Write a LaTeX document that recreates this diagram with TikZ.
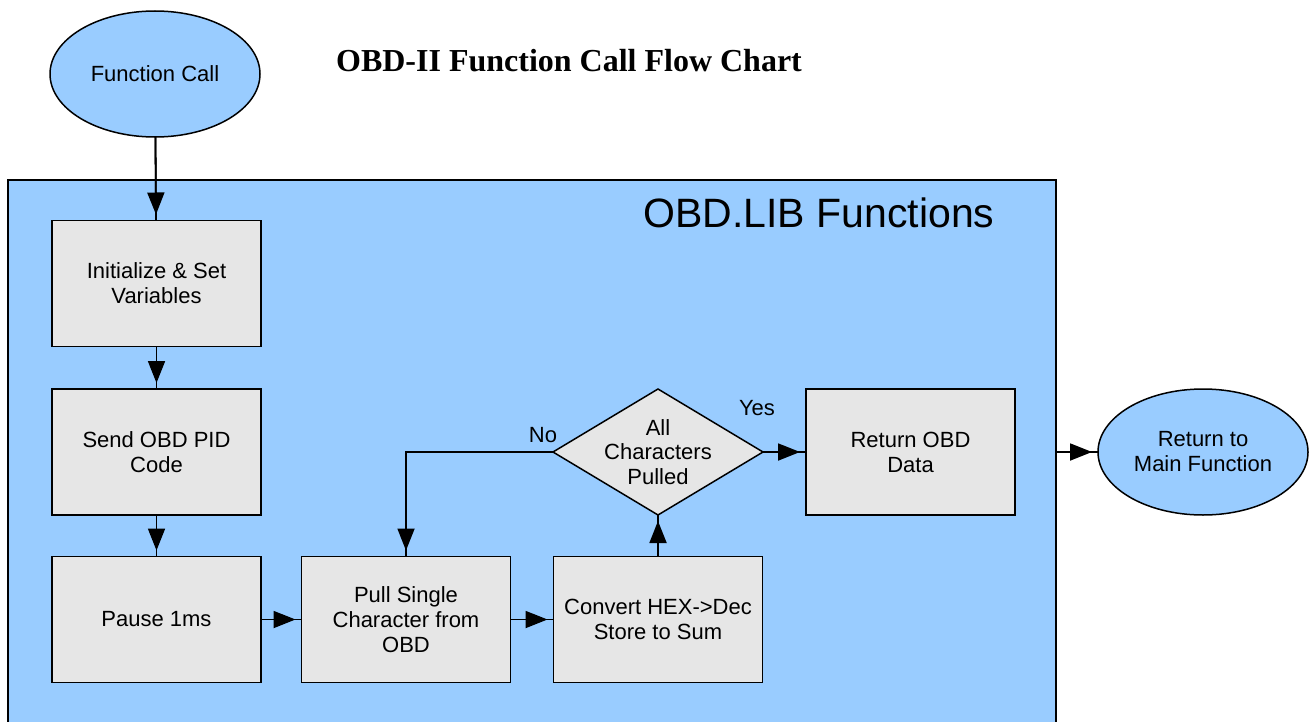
\documentclass[tikz,border=0pt]{standalone}
\usepackage{fontspec}
\setmainfont{Liberation Sans}
\newfontfamily\titlefont{Liberation Serif}
\usetikzlibrary{shapes.geometric,arrows.meta}
\definecolor{lane}{HTML}{99CCFF}
\definecolor{boxgray}{HTML}{E6E6E6}

\begin{document}
\begin{tikzpicture}[x=0.5pt,y=-0.5pt,line width=0.75pt,
  labelfont/.style={font=\fontsize{11}{12.5}\selectfont},
  procbox/.style={draw,fill=boxgray,minimum width=104.5pt,minimum height=63pt,
    inner sep=0pt,outer sep=0pt,align=center,labelfont},
  terminal/.style={ellipse,draw,fill=lane,minimum width=105pt,minimum height=63pt,
    inner sep=0pt,outer sep=0pt,align=center,labelfont},
  decision/.style={diamond,draw,fill=boxgray,minimum width=105pt,minimum height=63pt,
    inner sep=0pt,outer sep=0pt},
  flow/.style={draw,line width=0.9pt,
    postaction={draw,-{Triangle[length=11pt,width=8.5pt]},shorten >=3pt}}]

\useasboundingbox (0,0) rectangle (1316,722);

% library area
\node[draw,fill=lane,minimum width=524pt,minimum height=280pt,anchor=north west,
  inner sep=0pt,outer sep=0pt] (lib) at (8,180) {};
\node[font=\fontsize{20.5}{24}\selectfont] (libtitle) at (819,213) {OBD.LIB Functions};

% chart title
\node[font=\titlefont\bfseries\fontsize{16}{19}\selectfont] (title) at (569,61)
  {OBD-II Function Call Flow Chart};

% steps
\node[terminal] (call) at (155,74) {Function Call};
\node[procbox] (init) at (156.5,283.5) {Initialize \& Set\\Variables};
\node[procbox] (send) at (156.5,452) {Send OBD PID\\Code};
\node[procbox] (pause) at (156.5,619.5) {Pause 1ms};
\node[procbox] (pull) at (406,619.5) {Pull Single\\Character from\\OBD};
\node[procbox] (conv) at (658,619.5) {Convert HEX->Dec\\Store to Sum};
\node[decision] (check) at (658,452) {};
\node[align=center,font=\fontsize{11}{12.3}\selectfont] (checktext) at (658,452)
  {All\\Characters\\Pulled};
\node[procbox] (ret) at (910.5,452) {Return OBD\\Data};
\node[terminal] (main) at (1203,452) {Return to\\Main Function};

% branch labels
\node[labelfont] (yes) at (757,408) {Yes};
\node[labelfont] (no) at (543,435) {No};

% connectors
\coordinate (libexit) at (lib.east |- ret.east);
\draw[flow] (call) -- (init);
\draw[flow] (init) -- (send);
\draw[flow] (send) -- (pause);
\draw[flow] (pause) -- (pull);
\draw[flow] (pull) -- (conv);
\draw[flow] (conv) -- (check.south);
\draw[flow] (check.east) -- (ret.west);
\draw[flow] (check.west) -| (pull.north);
\draw[flow] (libexit) -- (main.west);

\end{tikzpicture}
\end{document}
